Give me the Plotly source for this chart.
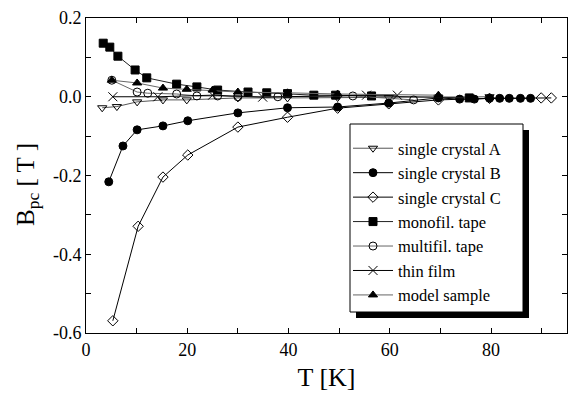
import plotly.graph_objects as go

# ---- data (T in K, Bpc in T) ----
scA_T = [3.2, 6.1, 10.1, 15.2, 19.9, 30.0, 39.8, 49.7, 59.8, 69.6, 79.7]
scA_B = [-0.028, -0.025, -0.013, -0.008, -0.008, -0.003, -0.003, -0.002, -0.002, -0.001, 0.0]

scB_T = [4.5, 7.3, 10.1, 15.2, 20.1, 30.0, 39.8, 49.7, 59.8, 69.6, 73.8, 76.7, 79.7, 81.7, 83.6, 85.8, 87.8]
scB_B = [-0.216, -0.125, -0.084, -0.074, -0.061, -0.041, -0.028, -0.026, -0.016, -0.003, -0.006, -0.006,
         -0.004, -0.004, -0.004, -0.004, -0.004]

scC_T = [5.3, 10.3, 15.2, 20.1, 30.0, 39.8, 49.7, 59.8, 69.6, 79.7, 89.9, 91.9]
scC_B = [-0.569, -0.329, -0.204, -0.148, -0.077, -0.052, -0.029, -0.018, -0.008, -0.004, -0.003, -0.003]

mono_T = [3.4, 4.7, 6.3, 9.7, 12.0, 17.9, 21.9, 26.0, 32.0, 35.7, 39.8, 45.0, 49.3, 56.4, 75.7]
mono_B = [0.136, 0.126, 0.103, 0.068, 0.048, 0.032, 0.025, 0.017, 0.012, 0.010, 0.008, 0.004, 0.004, 0.002, -0.003]

multi_T = [5.1, 10.1, 12.2, 17.9, 21.9, 26.0, 30.0, 37.9, 52.7, 64.7]
multi_B = [0.042, 0.012, 0.009, 0.007, 0.002, 0.002, 0.000, 0.000, 0.002, -0.008]

thin_T = [5.3, 14.2, 25.0, 34.9, 55.4, 61.5]
thin_B = [0.0, 0.0, 0.004, -0.001, 0.004, 0.004]

model_T = [5.1, 10.1, 15.2, 19.9, 25.0, 30.0, 39.8, 49.7, 69.6]
model_B = [0.042, 0.035, 0.022, 0.019, 0.017, 0.012, 0.010, 0.007, 0.004]

series_names = ["single crystal A", "single crystal B", "single crystal C", "monofil. tape",
                "multifil. tape", "thin film", "model sample"]

x_tickvals = [0, 20, 40, 60, 80]
x_ticktext = ["0", "20", "40", "60", "80"]
y_tickvals = [0.2, 0.0, -0.2, -0.4, -0.6]
y_ticktext = ["0.2", "0.0", "-0.2", "-0.4", "-0.6"]

FONT = "'Liberation Serif', 'Times New Roman', 'DejaVu Serif', serif"

styles = [
    (scA_T, scA_B, "triangle-down-open", "#555555"),
    (scB_T, scB_B, "circle", "black"),
    (scC_T, scC_B, "diamond-open", "black"),
    (mono_T, mono_B, "square", "#222222"),
    (multi_T, multi_B, "circle-open", "#666666"),
    (thin_T, thin_B, "x-thin-open", "black"),
    (model_T, model_B, "triangle-up", "#666666"),
]

fig = go.Figure()
for name, (xs, ys, sym, lc) in zip(series_names, styles):
    fig.add_trace(go.Scatter(
        x=xs, y=ys, name=name, mode="lines+markers",
        line=dict(color=lc, width=1),
        marker=dict(symbol=sym, size=8 if sym != "x-thin-open" else 9,
                    color="black",
                    line=dict(color="black", width=1)),
    ))

L, R, T_, B_ = 86, 6, 18, 65
W, H = 573, 398
pw, ph = W - L - R, H - T_ - B_

def px2paper(px, py):
    return (px - L) / pw, (H - B_ - py) / ph

# legend frame + drop shadow (pixel positions converted to paper coords)
bx0, by0 = px2paper(350, 124)
bx1, by1 = px2paper(523, 312)
sx0, sy0 = px2paper(356, 130)
sx1, sy1 = px2paper(529, 318)
fig.add_shape(type="rect", xref="paper", yref="paper", x0=sx0, y0=sy1, x1=sx1, y1=sy0,
              fillcolor="black", line=dict(width=0), layer="above")
fig.add_shape(type="rect", xref="paper", yref="paper", x0=bx0, y0=by1, x1=bx1, y1=by0,
              fillcolor="white", line=dict(color="black", width=1), layer="above")

lx, ly = px2paper(348, 131)

# y-axis title as a rotated annotation
tx, ty = px2paper(27, 185)
fig.add_annotation(x=tx, y=ty, xref="paper", yref="paper", text="B<sub>pc</sub> [ T ]",
                   textangle=-90, showarrow=False, xanchor="center", yanchor="middle",
                   font=dict(family=FONT, size=25, color="black"))

axis_common = dict(showgrid=False, zeroline=False, showline=True, linecolor="black", linewidth=1,
                   mirror="ticks", ticks="inside", ticklen=5, tickcolor="black",
                   tickfont=dict(family=FONT, size=18, color="black"))

fig.update_layout(
    width=W, height=H, margin=dict(l=L, r=R, t=T_, b=B_),
    paper_bgcolor="white", plot_bgcolor="white",
    font=dict(family=FONT, color="black"),
    showlegend=True,
    legend=dict(x=lx, y=ly, xanchor="left", yanchor="top", bgcolor="rgba(0,0,0,0)",
                borderwidth=0,
                font=dict(family=FONT, size=16.5, color="black"),
                tracegroupgap=0, itemwidth=40),
    xaxis=dict(range=[0, 95], tickvals=x_tickvals, ticktext=x_ticktext,
               minor=dict(dtick=10, ticks="inside", ticklen=5, tickcolor="black"),
               title=dict(text="T [K]", font=dict(family=FONT, size=26), standoff=9),
               **axis_common),
    yaxis=dict(range=[-0.6, 0.2], tickvals=y_tickvals, ticktext=y_ticktext,
               minor=dict(dtick=0.1, ticks="inside", ticklen=5, tickcolor="black"),
               **axis_common),
)

fig.write_html("out.html")
